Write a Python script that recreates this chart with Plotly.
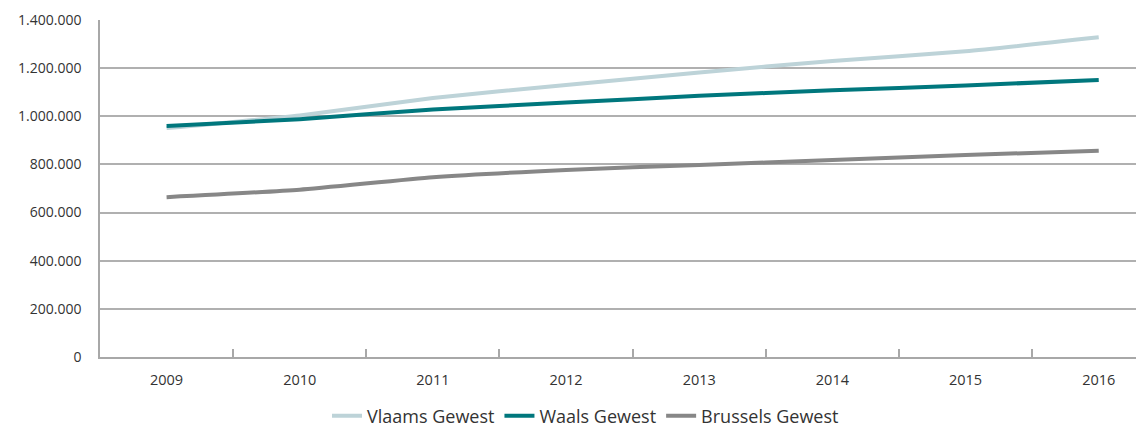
import plotly.graph_objects as go

years = ["2009", "2010", "2011", "2012", "2013", "2014", "2015", "2016"]
vlaams = [951000, 1003000, 1076000, 1130000, 1182000, 1230000, 1270000, 1328000]
waals = [960000, 988000, 1028000, 1057000, 1085000, 1108000, 1128000, 1151000]
brussels = [664000, 695000, 747000, 777000, 798000, 818000, 839000, 857000]

series = [
    ("Vlaams Gewest", vlaams, "#bdd3d8"),
    ("Waals Gewest", waals, "#00777d"),
    ("Brussels Gewest", brussels, "#878787"),
]

fig = go.Figure()
for name, vals, col in series:
    fig.add_trace(go.Scatter(
        x=years, y=vals, name=name, mode="lines",
        line=dict(color=col, width=4, shape="spline", smoothing=0.5),
    ))

font_family = "Open Sans, DejaVu Sans, sans-serif"
fig.update_layout(
    width=1144, height=427,
    margin=dict(l=92, r=0, t=12, b=77.5, autoexpand=False),
    paper_bgcolor="white", plot_bgcolor="white",
    separators=",.",
    font=dict(family=font_family, color="#333333", size=13),
    showlegend=True,
    legend=dict(
        orientation="h", x=0.4615, xanchor="center",
        y=-0.12, yanchor="top",
        font=dict(size=18, color="#333333"),
        itemwidth=30, tracegroupgap=0,
    ),
    xaxis=dict(
        type="category", range=[-0.5, 7.40], automargin=False,
        showgrid=False, showline=True, linecolor="#a8a8a8", linewidth=1.5,
        ticks="inside", tickson="boundaries", ticklen=8, tickcolor="#a8a8a8",
        tickwidth=1.5, tickfont=dict(size=14.5, color="#333333"),
        ticklabelstandoff=9,
    ),
    yaxis=dict(
        range=[0, 1400000], dtick=200000, tickformat=",d", automargin=False,
        showgrid=True, gridcolor="#b0b0b0", gridwidth=1.5,
        showline=True, linecolor="#a8a8a8", linewidth=1.5,
        zeroline=False, ticks="", tickfont=dict(size=14, color="#333333"),
        ticklabelstandoff=14,
    ),
)

fig.write_html("out.html")
